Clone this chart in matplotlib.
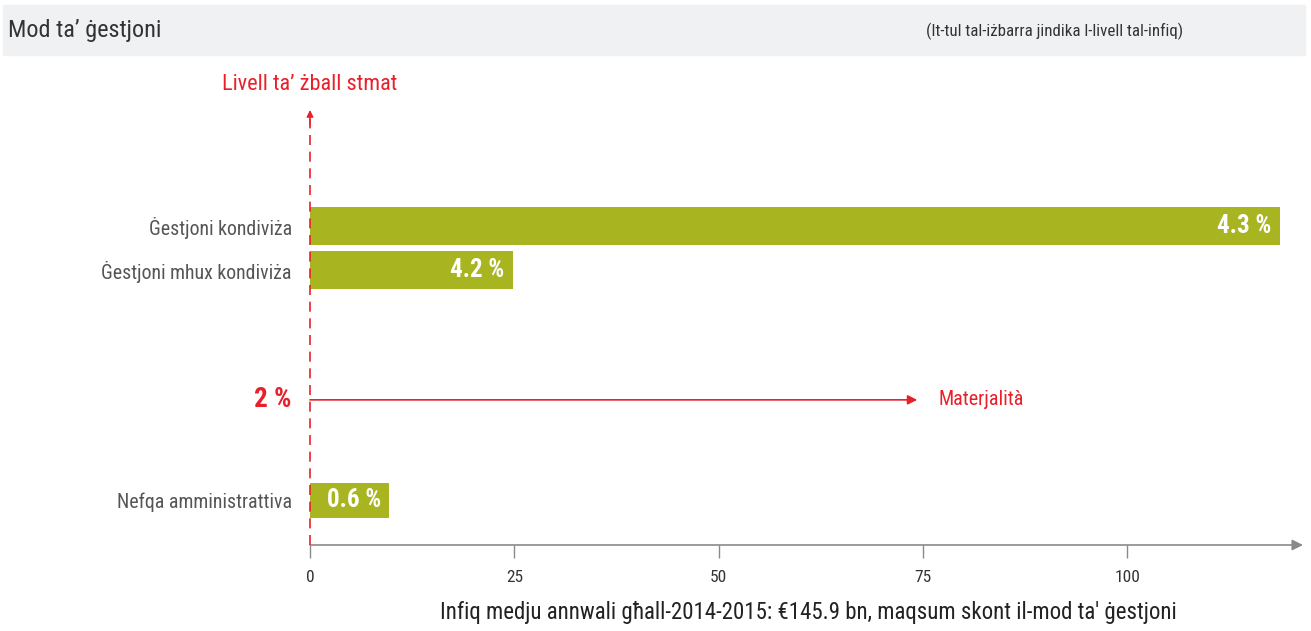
import matplotlib
matplotlib.use("Agg")
import matplotlib.pyplot as plt
from matplotlib.patches import Rectangle

plt.rcParams['font.family'] = ['Roboto Condensed', 'Roboto', 'DejaVu Sans']

# data
categories = ["Ġestjoni kondiviża", "Ġestjoni mhux kondiviża", "Nefqa amministrattiva"]
spend_bn = [118.7, 24.8, 9.7]          # bar lengths (EUR bn)
error_rate = ["4.3 %", "4.2 %", "0.6 %"]  # estimated error level
materiality_label = "2 %"
xticks = [0, 25, 50, 75, 100]

title = "Mod ta’ ġestjoni"
note = "(It-tul tal-iżbarra jindika l-livell tal-infiq)"
yaxis_title = "Livell ta’ żball stmat"
xaxis_title = "Infiq medju annwali għall-2014-2015: €145.9 bn, maqsum skont il-mod ta' ġestjoni"

GREEN = "#a8b521"
RED = "#e8202a"
GREY = "#8a8a8a"
TXT = "#555555"

# layout (row positions in bar-pitch units)
ypos = [0, 1, 6.23]
heights = [0.86, 0.86, 0.8]
mat_y = 3.95

fig = plt.figure(figsize=(13.11, 6.31), dpi=100)

# header band
fig.patches.append(Rectangle((3 / 1311, 1 - 55 / 631), 1302 / 1311, 50 / 631,
                             transform=fig.transFigure, color="#f0f1f3", zorder=0))
fig.text(8 / 1311, 1 - 31 / 631, title, fontsize=17.5, color="#333333", va="center")
fig.text(1183 / 1311, 1 - 31 / 631, note, fontsize=12.2, color="#333333", va="center", ha="right")

ax = fig.add_axes([310 / 1311, 1 - 545 / 631, 993 / 1311, 435 / 631])
ax.set_xlim(0, 121.5)
ax.set_ylim(7.25, -2.64)
for s in ax.spines.values():
    s.set_visible(False)

ax.barh(ypos, spend_bn, height=heights, color=GREEN, zorder=2)
for y, w, lab in zip(ypos, spend_bn, error_rate):
    ax.annotate(lab, (w, y), xytext=(-6, 0), textcoords="offset points",
                ha="right", va="center", color="white", fontsize=18, fontweight="bold", zorder=3)

ax.set_yticks(ypos)
ax.set_yticklabels(categories, fontsize=14.3, color=TXT, va="center_baseline")
ax.tick_params(axis="y", length=0, pad=13)

ax.set_xticks(xticks)
ax.set_xticklabels([str(t) for t in xticks], fontsize=12.5, color="#333333")
ax.tick_params(axis="x", direction="out", length=9, color=GREY, width=1, pad=9)

# x axis with arrow
ax.annotate("", xy=(1, 0), xycoords="axes fraction", xytext=(0, 0), textcoords="axes fraction",
            arrowprops=dict(arrowstyle="-|>", color=GREY, lw=1.2, mutation_scale=16, shrinkA=0, shrinkB=0),
            annotation_clip=False)

# dashed red vertical with arrow head
ax.plot([0, 0], [7.25, -2.5], color=RED, lw=1.2, ls=(0, (6, 4)), zorder=4, clip_on=False)
ax.annotate("", xy=(0, -2.64), xytext=(0, -2.3),
            arrowprops=dict(arrowstyle="-|>", color=RED, lw=1, mutation_scale=10, shrinkA=0, shrinkB=0),
            annotation_clip=False)
fig.text(310 / 1311, 1 - 84 / 631, yaxis_title, fontsize=16, color=RED, ha="center", va="center")

# materiality line
ax.annotate("", xy=(74.3, mat_y), xytext=(0, mat_y),
            arrowprops=dict(arrowstyle="-|>", color=RED, lw=1.2, mutation_scale=14, shrinkA=0, shrinkB=0),
            annotation_clip=False, zorder=4)
ax.annotate("Materjalità", (74.3, mat_y), xytext=(15, 0), textcoords="offset points",
            ha="left", va="center", color=RED, fontsize=14.5)
ax.annotate(materiality_label, (0, mat_y), xytext=(-13, 0), textcoords="offset points",
            ha="right", va="center", color=RED, fontsize=19.5, fontweight="bold")

fig.text(808 / 1311, 1 - 612 / 631, xaxis_title, fontsize=16.5, color="#222222", ha="center", va="center")

fig.savefig("out.png", dpi=100)
